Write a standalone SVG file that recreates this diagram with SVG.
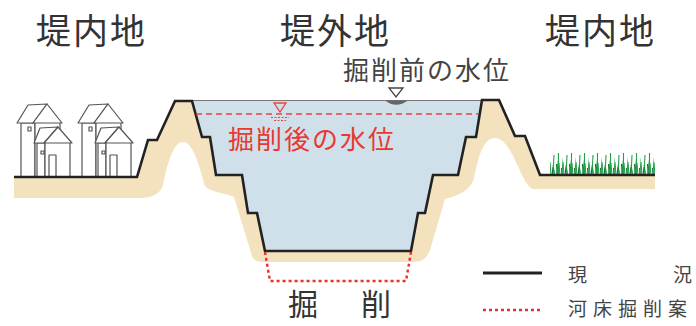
<svg xmlns="http://www.w3.org/2000/svg" width="696" height="326" viewBox="0 0 696 326">
  <defs>
    <style>
      .ttl { font-family: "Noto Sans CJK JP", "Noto Sans", sans-serif; fill: #333; }
      .lbl { font-family: "Noto Sans CJK JP", "Noto Sans", sans-serif; }
      .house { fill: #fff; stroke: #555; stroke-width: 1.2; stroke-linejoin: round; }
      .profile { fill: none; stroke: #222; stroke-width: 2.6; stroke-linejoin: miter; }
      .red-dash { fill: none; stroke: #e8453c; stroke-width: 1.4; stroke-dasharray: 6 4; }
      .red-dot { fill: none; stroke: #e8302a; stroke-width: 2.4; stroke-dasharray: 3 3; }
    </style>
    <pattern id="grass" patternUnits="userSpaceOnUse" x="550" y="150" width="13" height="26">
      <path d="M1,26 l-1,-14 M3,26 l1,-21 M5,26 l-2,-11 M6.5,26 l2,-17 M8.5,26 l0,-23 M10,26 l-1,-13 M11.5,26 l2,-19" stroke="#22a04a" stroke-width="1.1" fill="none"/>
      <path d="M2,26 l1,-9 M7.5,26 l-1,-12 M12.5,26 l-1,-8" stroke="#137a35" stroke-width="1.2" fill="none"/>
    </pattern>
    <g id="house-pair">
      <!-- rear house -->
      <rect class="house" x="21" y="123" width="14" height="54"/>
      <rect class="house" x="35" y="122" width="25" height="55"/>
      <polygon class="house" points="17,123 28,105 47,104 33,123"/>
      <polygon class="house" points="33,123 47,104 62,123"/>
      <rect class="house" x="28" y="127" width="3" height="4"/>
      <!-- front house -->
      <rect class="house" x="37" y="143" width="8" height="34"/>
      <rect class="house" x="45" y="142" width="25" height="35"/>
      <polygon class="house" points="34,143 40,128 58,127 44,143"/>
      <polygon class="house" points="44,143 58,127 72,143"/>
      <rect class="house" x="41" y="151" width="3" height="3"/>
      <rect class="house" x="49" y="155" width="7" height="22"/>
    </g>
  </defs>

  <rect width="696" height="326" fill="#fff"/>

  <!-- headings -->
  <g id="headings" class="ttl" font-size="35" letter-spacing="2">
    <text x="36" y="44">堤内地</text>
    <text x="280" y="44">堤外地</text>
    <text x="545" y="44">堤内地</text>
  </g>

  <!-- embankment soil -->
  <g id="soil">
    <path fill="#f3e2bd" d="M14,177 L137,177 L148,140 L157,140 L175,101 L192,101 L202,137 L210,137 L216,175 L242,175 L248,213 L257,213 L265,251 L411,251 L418,213 L425,213 L433,175 L458,175 L466,137 L476,137 L482,100 L499,100 L515,136 L525,136 L540,175 L655,175 L655,189 L532,189 C520,182 512,138 495,138 C482,138 478,160 474,178 C470,192 455,196 445,199 L430,250 Q426,262 414,262 L262,262 Q254,262 252,256 L234,197 C222,192 210,192 205,186 C199,165 193,142 183,142 C174,142 168,160 163,185 C160,195 150,198 140,198 L14,198 Z"/>
  </g>

  <!-- river water -->
  <g id="water">
    <path fill="#cfe0ea" d="M192,100 L202,137 L210,137 L216,175 L242,175 L248,213 L257,213 L265,251 L411,251 L418,213 L425,213 L433,175 L458,175 L466,137 L476,137 L482,100 Z"/>
    <line x1="192" y1="100.5" x2="482" y2="100.5" stroke="#777" stroke-width="1.2"/>
  </g>

  <!-- houses -->
  <g id="houses-left">
    <use href="#house-pair"/>
    <use href="#house-pair" transform="translate(61,0)"/>
  </g>

  <!-- grass -->
  <g id="grass-right">
    <rect x="550" y="150" width="105" height="26" fill="url(#grass)"/>
  </g>

  <!-- current profile -->
  <g id="connectors">
    <path class="profile" d="M14,177 L137,177 L148,140 L157,140 L175,101 L192,101 L202,137 L210,137 L216,175 L242,175 L248,213 L257,213 L265,251 L411,251 L418,213 L425,213 L433,175 L458,175 L466,137 L476,137 L482,100 L499,100 L515,136 L525,136 L540,175 L655,175"/>
    <!-- planned dredging outline -->
    <path class="red-dot" d="M265,252 L270,281 L406,281 L411,252"/>
    <!-- water level after dredging -->
    <path class="red-dash" d="M196,114 H478"/>
  </g>

  <!-- water level markers -->
  <g id="level-before">
    <path d="M385,100.5 Q396,109 408,100.5 Z" fill="#666"/>
    <polygon points="389,88 403,88 396,97" fill="#fff" stroke="#444" stroke-width="1.3"/>
    <text class="lbl" x="343" y="80" font-size="26" letter-spacing="2" fill="#444">掘削前の水位</text>
  </g>
  <g id="level-after">
    <polygon points="274,103 286,103 280,112" fill="none" stroke="#e8453c" stroke-width="1.3"/>
    <path d="M271,117.5 h18 M274,120.5 h12" stroke="#e8453c" stroke-width="1" stroke-dasharray="2 1.5" fill="none"/>
    <text class="lbl" x="228" y="149" font-size="26" letter-spacing="2" fill="#e8392f">掘削後の水位</text>
  </g>

  <!-- dredging label -->
  <g id="dredge-label" class="ttl" font-size="30">
    <text x="288" y="315">掘</text>
    <text x="361" y="315">削</text>
  </g>

  <!-- legend -->
  <g id="legend">
    <line x1="483" y1="273" x2="542" y2="273" stroke="#222" stroke-width="3"/>
    <line x1="483" y1="310" x2="542" y2="310" class="red-dot"/>
    <text class="lbl" font-size="19" fill="#444" y="282"><tspan x="568">現</tspan><tspan x="673">況</tspan></text>
    <text class="lbl" font-size="19" fill="#444" x="568" y="316" letter-spacing="6">河床掘削案</text>
  </g>
</svg>
